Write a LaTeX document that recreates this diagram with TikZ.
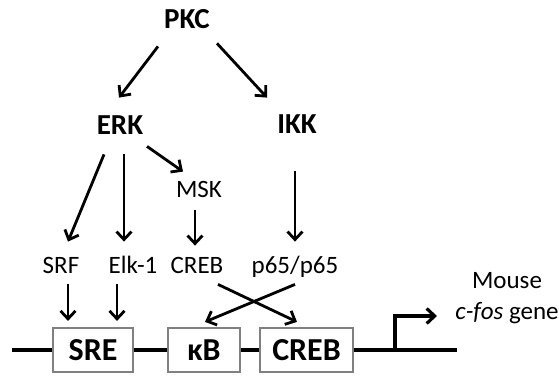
\documentclass[tikz,border=0pt]{standalone}
\usepackage{fontspec}
\setmainfont{Carlito}
\usetikzlibrary{arrows.meta}
\tikzstyle{kinase} = [font=\bfseries\fontsize{29}{29}\selectfont, inner sep=0pt, text height=17pt, text depth=0pt]
\tikzstyle{factor} = [font=\fontsize{25}{25}\selectfont, inner sep=0pt, text height=15pt, text depth=0pt]
\tikzstyle{element} = [rectangle, draw=black!50, line width=2.2pt, font=\bfseries\fontsize{32}{32}\selectfont, minimum height=44pt, inner sep=0pt]
\tikzstyle{gene} = [font=\fontsize{25}{31}\selectfont, align=center, inner sep=0pt]

\begin{document}
\begin{tikzpicture}[x=1pt, y=-1pt, line width=2.8pt, >={Straight Barb[length=8pt,width=15pt]}]
   \useasboundingbox (0,0) rectangle (559,375);
   % nodes
   \node[kinase] (PKC) at (187,20)                      {PKC};
   \node[kinase] (ERK) at (120,126)                     {ERK};
   \node[kinase] (IKK) at (297,125)                     {IKK};
   \node[factor] (MSK) at (199,190)                     {MSK};
   \node[factor] (SRF) at (61,266)                      {SRF};
   \node[factor] (Elk) at (133,266)                     {Elk-1};
   \node[factor] (CREB) at (197,266)                    {CREB};
   \node[factor] (p65) at (295,266)                     {p65/p65};
   \node[element, minimum width=80pt] (SRE) at (93,350)   {SRE};
   \node[element, minimum width=72pt] (kB) at (204,350)   {κB};
   \node[element, minimum width=93pt] (CRE) at (306.5,350) {CREB};
   \node[gene, anchor=north east] (fos) at (560,271)    {Mouse\\\textit{c-fos} gene};
   \coordinate (dnaL) at (12,350);
   \coordinate (dnaR) at (457,350);
   \coordinate (tss) at (395,350);
   \coordinate (tssEnd) at (437,316);

   % edges
	\draw[->] ([xshift=-29pt,yshift=-16.5pt]PKC.south) to ([xshift=-1pt,yshift=18.5pt]ERK.north);
	\draw[->] ([xshift=30pt,yshift=-13.5pt]PKC.south) to ([xshift=-30pt,yshift=17.5pt]IKK.north);
	\draw[->] ([xshift=-16pt,yshift=-18.5pt]ERK.south) to ([xshift=7pt,yshift=15.5pt]SRF.north);
	\draw[->] ([xshift=4pt,yshift=-18.5pt]ERK.south) to ([xshift=-9pt,yshift=15.5pt]Elk.north);
	\draw[->] ([xshift=27pt,yshift=-10.5pt]ERK.south) to ([xshift=-16pt,yshift=9.5pt]MSK.north);
	\draw[->] ([xshift=-4pt,yshift=-11.5pt]MSK.south) to ([xshift=-2pt,yshift=11.5pt]CREB.north);
	\draw[->] ([xshift=-2pt,yshift=-36.5pt]IKK.south) to ([yshift=15.5pt]p65.north);
	\draw[->] ([xshift=7pt,yshift=-9.5pt]SRF.south) to ([xshift=-25pt,yshift=6pt]SRE.north);
	\draw[->] ([xshift=-16pt,yshift=-9.5pt]Elk.south) to ([xshift=24pt,yshift=6pt]SRE.north);
	\draw[->] ([xshift=21pt,yshift=-9.5pt]CREB.south) to ([xshift=-9.5pt,yshift=5pt]CRE.north);
	\draw[->] ([yshift=-9.5pt]p65.south) to ([xshift=1pt,yshift=5pt]kB.north);
	% DNA
	\draw[line width=3.2pt] (dnaL) -- (SRE.west);
	\draw[line width=3.2pt] (SRE.east) -- (kB.west);
	\draw[line width=3.2pt] (kB.east) -- (CRE.west);
	\draw[line width=3.2pt] (CRE.east) -- (dnaR);
	\draw[->, line width=3.2pt] (tss) |- (tssEnd);
  \end{tikzpicture}
\end{document}
